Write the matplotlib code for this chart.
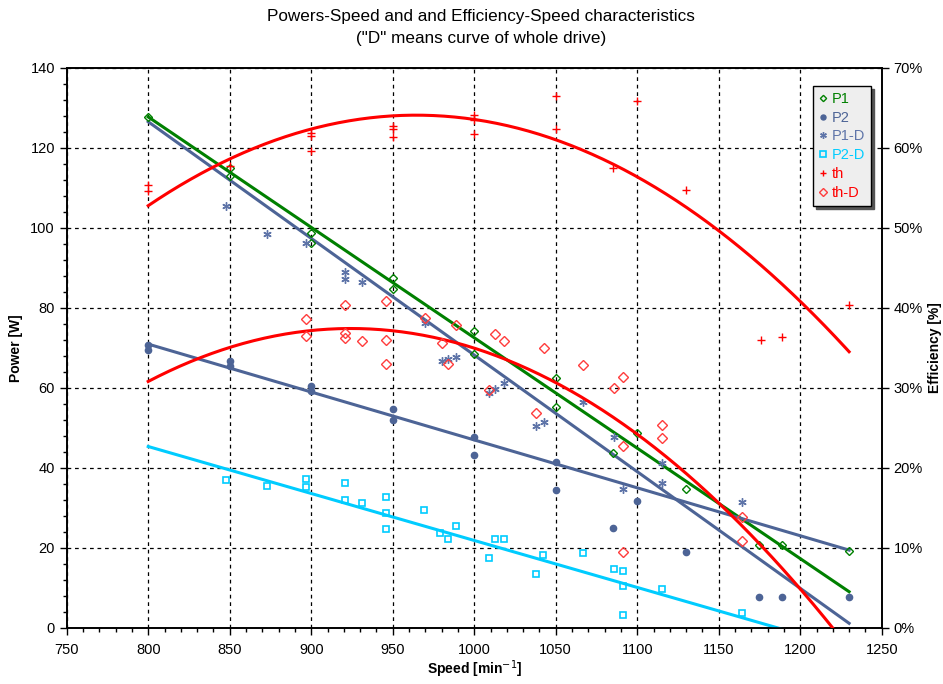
import numpy as np
import matplotlib
matplotlib.use("Agg")
import matplotlib.pyplot as plt
from matplotlib.ticker import MultipleLocator, FuncFormatter

plt.rcParams['font.family'] = ['Liberation Sans', 'DejaVu Sans']

# ---------------------------------------------------------------------------------
# Measured points read from the chart (powers in W, efficiencies in %)
# ---------------------------------------------------------------------------------
p1_speed = [800, 850, 850, 900, 900, 950, 950, 1000, 1000, 1050, 1050, 1085, 1100, 1130, 1175, 1189, 1230]
p1_power = [127.7, 115.0, 113.0, 98.6, 96.1, 87.5, 84.6, 74.2, 68.4, 62.4, 55.2, 43.6, 48.7, 34.7, 20.7, 20.7, 19.2]

p2_speed = [800, 800, 850, 850, 900, 900, 950, 950, 1000, 1000, 1050, 1050, 1085, 1100, 1130, 1175, 1189, 1230]
p2_power = [70.7, 69.5, 66.7, 65.4, 60.4, 59.2, 54.7, 51.9, 47.6, 43.2, 41.5, 34.4, 25.0, 31.8, 18.9, 7.6, 7.6, 7.8]

p1d_speed = [848, 873, 897, 921, 921, 931, 970, 980, 984, 989, 1009, 1013, 1018, 1038, 1043, 1067, 1086,
             1091, 1115, 1115, 1164]
p1d_power = [105.5, 98.4, 96.1, 89.0, 87.3, 86.5, 76.1, 66.7, 67.3, 67.8, 58.8, 59.6, 61.2, 50.4, 51.5, 56.5, 47.8,
             34.8, 36.2, 41.1, 31.5]

p2d_speed = [848, 873, 897, 897, 921, 921, 931, 946, 946, 946, 969, 979, 984, 989, 1009, 1013, 1018, 1038, 1042,
             1067, 1086, 1091, 1091, 1091, 1115, 1164]
p2d_power = [36.9, 35.5, 37.2, 35.1, 36.1, 31.9, 31.1, 32.8, 28.8, 24.7, 29.4, 23.8, 22.2, 25.5, 17.5, 22.1, 22.1,
             13.4, 18.3, 18.6, 14.6, 14.2, 10.4, 3.3, 9.6, 3.8]

th_speed = [800, 800, 850, 900, 900, 900, 950, 950, 950, 1000, 1000, 1000, 1050, 1050, 1085, 1100, 1130, 1176,
            1189, 1230]
th_eff = [55.3, 54.6, 57.7, 61.8, 61.5, 59.6, 62.7, 62.3, 61.3, 64.1, 63.5, 61.7, 66.5, 62.4, 57.5, 65.9, 54.7,
          36.0, 36.4, 40.4]

thd_speed = [897, 897, 921, 921, 921, 931, 946, 946, 946, 970, 980, 984, 989, 1009, 1013, 1018, 1038, 1043, 1067,
             1086, 1091, 1091, 1091, 1115, 1115, 1164, 1164]
thd_eff = [38.6, 36.5, 40.4, 36.9, 36.2, 35.9, 40.8, 36.0, 33.0, 38.7, 35.6, 33.0, 37.8, 29.7, 36.7, 35.8, 26.8,
           35.0, 32.8, 30.0, 31.4, 22.7, 9.5, 25.4, 23.7, 13.8, 10.8]

# ---------------------------------------------------------------------------------
# Trendlines
# ---------------------------------------------------------------------------------
trend_speed = [800, 1230]
p1_trend = [127.7, 9.0]
p2_trend = [70.9, 19.4]
p1d_trend = [126.5, 1.1]
p2d_trend = [45.3, -5.2]

th_curve_speed = [800, 850, 900, 950, 1000, 1050, 1150, 1200, 1230]
th_curve = [52.9, 58.5, 62.2, 63.9, 63.5, 61.2, 49.9, 40.3, 34.7]
thd_curve_speed = [800, 850, 900, 950, 1000, 1050, 1100, 1150, 1200, 1219]
thd_curve = [30.8, 35.1, 37.0, 37.2, 34.9, 30.6, 24.0, 16.0, 4.9, 0.0]

# colours
c_p1 = '#008000'
c_p2 = '#4D6496'
c_p1d = '#5E74A8'
c_p2d = '#00CCFF'
c_th = '#FF0000'
c_thd = '#FF3C3C'

# ---------------------------------------------------------------------------------
# Figure
# ---------------------------------------------------------------------------------
fig = plt.figure(figsize=(9.43, 6.84), dpi=100)
ax = fig.add_axes([66.7 / 943, 1 - 627.7 / 684, 815 / 943, 560 / 684])
ax2 = ax.twinx()

xs = np.linspace(800, 1230, 200)

ax.plot(trend_speed, p1_trend, color=c_p1, lw=2.2, zorder=3)
ax.plot(trend_speed, p2_trend, color=c_p2, lw=2.2, zorder=3)
ax.plot(trend_speed, p1d_trend, color=c_p2, lw=2.2, zorder=3)
ax.plot(trend_speed, p2d_trend, color=c_p2d, lw=2.2, zorder=3)
ax2.plot(xs, np.polyval(np.polyfit(th_curve_speed, th_curve, 2), xs), color=c_th, lw=2.2, zorder=3)
ax2.plot(xs, np.polyval(np.polyfit(thd_curve_speed, thd_curve, 2), xs), color=c_th, lw=2.2, zorder=3)

# markers
h1, = ax.plot(p1_speed, p1_power, ls='none', marker='D', ms=4, mfc='none', mec=c_p1, mew=1, label='P1', zorder=4)
h2, = ax.plot(p2_speed, p2_power, ls='none', marker='o', ms=4.5, color=c_p2, label='P2', zorder=4)
h3, = ax.plot(p1d_speed, p1d_power, ls='none', marker=(6, 2, 0), ms=6, mec=c_p1d, mew=1, label='P1-D', zorder=4)
h4, = ax.plot(p2d_speed, p2d_power, ls='none', marker='s', ms=5, mfc='none', mec=c_p2d, mew=1.2, label='P2-D',
              zorder=4)
h5, = ax2.plot(th_speed, th_eff, ls='none', marker='+', ms=6, mec=c_th, mew=1, label='th', zorder=4)
h6, = ax2.plot(thd_speed, thd_eff, ls='none', marker='D', ms=5, mfc='none', mec=c_thd, mew=1, label='th-D',
               zorder=4)

# axes
ax.set_xlim(750, 1250)
ax.set_ylim(0, 140)
ax2.set_ylim(0, 70)
ax.xaxis.set_major_locator(MultipleLocator(50))
ax.xaxis.set_minor_locator(MultipleLocator(10))
ax.yaxis.set_major_locator(MultipleLocator(20))
ax.yaxis.set_minor_locator(MultipleLocator(4))
ax2.yaxis.set_major_locator(MultipleLocator(10))
ax2.yaxis.set_major_formatter(FuncFormatter(lambda v, p: f'{v:.0f}%'))
ax.grid(True, which='major', color='black', ls=(0, (3, 3)), lw=0.9)
ax.set_axisbelow(True)

tick_font = ['Liberation Sans Narrow', 'Liberation Sans', 'DejaVu Sans']
ax.tick_params(axis='both', which='major', direction='out', length=5, labelsize=10.5, width=1)
ax.tick_params(axis='both', which='minor', direction='out', length=3, width=1)
ax2.tick_params(axis='y', direction='out', length=5, labelsize=10.5, width=1)
for lab in ax.get_xticklabels() + ax.get_yticklabels() + ax2.get_yticklabels():
    lab.set_family(tick_font)
ax.tick_params(axis='x', pad=6)

for sp in ax.spines.values():
    sp.set_linewidth(1.2)
for sp in ax2.spines.values():
    sp.set_linewidth(1.2)

ax.set_xlabel('Speed [min$^{-1}$]', fontsize=10, fontweight='bold', labelpad=1)
ax.set_ylabel('Power [W]', fontsize=10, fontweight='bold', labelpad=5)
ax2.set_ylabel('Efficiency [%]', fontsize=10, fontweight='bold', labelpad=4)

fig.text(481 / 943, 1 - 17 / 684, 'Powers-Speed and and Efficiency-Speed characteristics', ha='center',
         va='center', fontsize=12.3)
fig.text(481 / 943, 1 - 38 / 684, '("D" means curve of whole drive)', ha='center', va='center', fontsize=12.3)

leg = ax2.legend(handles=[h1, h2, h3, h4, h5, h6], loc='upper left', bbox_to_anchor=(813 / 943, 1 - 86 / 684),
                 bbox_transform=fig.transFigure, borderaxespad=0, fontsize=10.5, frameon=True, fancybox=False,
                 shadow={'color': '#555555', 'alpha': 1}, edgecolor='black', facecolor='#EEEEEE',
                 handlelength=0.6, handletextpad=0.3, labelspacing=0.33, borderpad=0.4, markerscale=0.8)
leg.get_frame().set_linewidth(1)
leg.get_frame().set_alpha(1)
for t, c in zip(leg.get_texts(), [c_p1, c_p2, c_p1d, c_p2d, c_th, c_th]):
    t.set_color(c)

fig.savefig('out.png', dpi=100)
